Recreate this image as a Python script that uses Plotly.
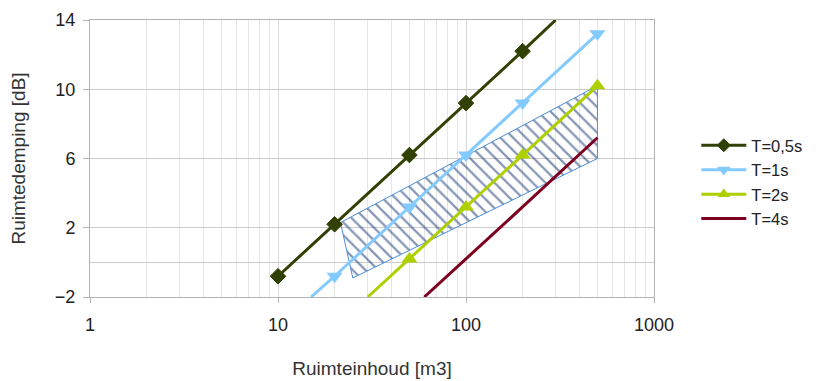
import plotly.graph_objects as go

# Data
v_05 = [10, 20, 50, 100, 200, 300]
d_05 = [-0.8, 2.2, 6.2, 9.2, 12.2, 14.0]
m_05 = [12, 12, 12, 12, 12, 0]

v_1 = [15, 20, 50, 100, 200, 500]
d_1 = [-2.0, -0.8, 3.2, 6.2, 9.2, 13.2]
m_1 = [0, 14, 14, 14, 14, 14]

v_2 = [30, 50, 100, 200, 500]
d_2 = [-2.0, 0.2, 3.2, 6.2, 10.2]
m_2 = [0, 14, 14, 14, 14]

v_4 = [60, 100, 200, 500]
d_4 = [-2.0, 0.2, 3.2, 7.2]

zone_v = [21.5, 500, 500, 25, 21.5]
zone_d = [2.3, 10.2, 6.0, -0.9, 2.3]

x_ticks = [1, 10, 100, 1000]
y_ticks = [-2, 2, 6, 10, 14]
minor_x = [2, 3, 4, 5, 6, 7, 8, 9, 20, 30, 40, 50, 60, 70, 80, 90,
           200, 300, 400, 500, 600, 700, 800, 900]

FONT = "Liberation Sans, Arial, sans-serif"

fig = go.Figure()

fig.add_trace(go.Scatter(
    x=zone_v, y=zone_d, mode="lines", fill="toself",
    line=dict(color="#4a8fd8", width=1),
    fillcolor="rgba(0,0,0,0)",
    fillpattern=dict(shape="\\", fgcolor="#0a2a6a", bgcolor="rgba(0,0,0,0)",
                     size=9, solidity=0.25),
    showlegend=False, hoverinfo="skip"))

fig.add_trace(go.Scatter(
    x=v_05, y=d_05, name="T=0,5s", mode="lines+markers",
    line=dict(color="#314004", width=3),
    marker=dict(symbol="diamond", size=m_05, color="#314004", opacity=1,
                line=dict(width=1, color="#314004"))))
fig.add_trace(go.Scatter(
    x=v_1, y=d_1, name="T=1s", mode="lines+markers",
    line=dict(color="#83caff", width=3),
    marker=dict(symbol="triangle-down", size=m_1, color="#83caff", opacity=1,
                line=dict(width=0))))
fig.add_trace(go.Scatter(
    x=v_2, y=d_2, name="T=2s", mode="lines+markers",
    line=dict(color="#aecf00", width=3),
    marker=dict(symbol="triangle-up", size=m_2, color="#aecf00", opacity=1,
                line=dict(width=0))))
fig.add_trace(go.Scatter(
    x=v_4, y=d_4, name="T=4s", mode="lines",
    line=dict(color="#7e0021", width=3)))

fig.update_layout(
    width=834, height=381,
    margin=dict(l=82, r=188, t=12, b=92, autoexpand=False),
    paper_bgcolor="white", plot_bgcolor="white",
    font=dict(family=FONT, size=18, color="#333333"),
    legend=dict(x=1.075, xanchor="left", y=0.61, yanchor="top",
                font=dict(size=16.5, color="#222222"),
                tracegroupgap=0, itemwidth=45),
    xaxis=dict(
        type="log", range=[0, 3], tickvals=x_ticks,
        ticktext=[str(v) for v in x_ticks], automargin=False,
        showgrid=True, gridcolor="#d9d9d9", gridwidth=1,
        minor=dict(tickvals=minor_x, showgrid=True, gridcolor="#e6e6e6",
                   gridwidth=1),
        showline=True, linecolor="#b3b3b3", linewidth=1, mirror=True,
        ticks="outside", ticklen=5, tickcolor="#b3b3b3",
        ticklabelstandoff=6,
        tickfont=dict(size=18, color="#222222"),
        title=dict(text="Ruimteinhoud [m3]", standoff=28,
                   font=dict(size=19, color="#333333")),
    ),
    yaxis=dict(
        range=[-2, 14], tickvals=y_ticks, automargin=False,
        showgrid=True, gridcolor="#cccccc", gridwidth=1,
        zeroline=True, zerolinecolor="#cccccc", zerolinewidth=1,
        showline=True, linecolor="#b3b3b3", linewidth=1, mirror=True,
        ticks="outside", ticklen=6, tickcolor="#b3b3b3",
        ticklabelstandoff=4,
        tickfont=dict(size=18, color="#222222"),
        title=dict(text="Ruimtedemping [dB]", standoff=28,
                   font=dict(size=19, color="#333333")),
    ),
)

fig.write_html("out.html")
